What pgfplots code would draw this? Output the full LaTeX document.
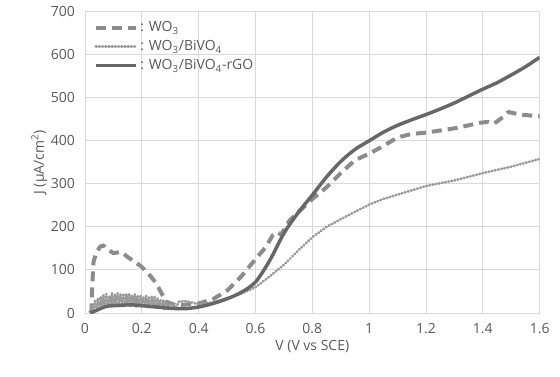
\documentclass[border=0pt]{standalone}
\usepackage{fontspec}
\setmainfont{Open Sans}
\usepackage{pgfplots}
\pgfplotsset{compat=1.18}
\definecolor{txt}{HTML}{595959}
\definecolor{gridc}{HTML}{D9D9D9}
\definecolor{cdash}{HTML}{8C8C8C}
\definecolor{cdot}{HTML}{9A9A9A}
\definecolor{csolid}{HTML}{676767}
\begin{document}
\begin{tikzpicture}
\begin{axis}[
  at={(0,0)}, anchor=south west,
  scale only axis, width=341pt, height=226pt,
  xmin=0, xmax=1.6, ymin=0, ymax=700,
  xtick={0,0.2,...,1.6}, ytick={0,100,...,700},
  xticklabels={0,0.2,0.4,0.6,0.8,1,1.2,1.4,1.6},
  /pgf/number format/assume math mode=true,
  tick style={draw=none},
  grid=major, major grid style={gridc, line width=0.7pt},
  axis line style={gridc, line width=0.7pt},
  ticklabel style={font=\fontsize{10.5}{12}\selectfont, text=txt},
  xticklabel style={yshift=-4pt},
  yticklabel style={xshift=-4pt},
  xlabel={V (V vs SCE)}, ylabel={J (μA/cm\textsuperscript{2})},
  label style={font=\fontsize{10.5}{12}\selectfont, text=txt},
  xlabel style={yshift=2pt},
  ylabel style={yshift=-4pt},
  legend style={draw=none, fill=none, at={(0.01,0.985)}, anchor=north west,
    font=\fontsize{10.5}{12}\selectfont, text=txt, row sep=1pt},
  legend cell align=left,
  legend image code/.code={\draw[#1] (0cm,0cm) -- (1.05cm,0cm);},
]
\addplot[cdash, line width=3pt, line join=round, dash pattern=on 7.5pt off 4.5pt] coordinates {
(0.018,0) (0.023,6) (0.025,57) (0.03,119) (0.04,140) (0.053,154) (0.065,157) (0.08,148)
(0.1,139) (0.128,142) (0.15,130) (0.175,119) (0.2,107) (0.225,90) (0.25,70) (0.27,45)
(0.29,25) (0.32,18) (0.36,20) (0.4,22) (0.45,32) (0.5,52) (0.55,85) (0.6,125)
(0.637,154) (0.66,180) (0.675,188) (0.69,182) (0.72,215) (0.76,240) (0.8,265) (0.85,292)
(0.9,325) (0.95,355) (1.0,370) (1.05,388) (1.1,408) (1.15,416) (1.2,419) (1.25,424)
(1.3,429) (1.35,436) (1.39,442) (1.42,444) (1.44,440) (1.47,455) (1.49,467) (1.53,461) (1.6,457)
};
\addlegendentry{: WO\textsubscript{3}}
\addplot[cdot, line width=2pt, line cap=round, line join=round, dash pattern=on 0.6pt off 1.8pt] coordinates {
(0.02,0) (0.025,18) (0.03,6) (0.035,28) (0.04,10) (0.045,34) (0.05,14) (0.055,38) (0.06,16)
(0.065,42) (0.07,18) (0.075,44) (0.08,14) (0.085,40) (0.09,20) (0.095,46) (0.1,16)
(0.105,44) (0.11,18) (0.115,46) (0.12,15) (0.125,43) (0.13,20) (0.135,45) (0.14,16)
(0.145,44) (0.15,18) (0.155,46) (0.16,15) (0.165,42) (0.17,18) (0.175,44) (0.18,14)
(0.185,40) (0.19,16) (0.195,42) (0.2,14) (0.205,38) (0.21,16) (0.215,40) (0.22,12)
(0.225,36) (0.23,14) (0.235,38) (0.24,12) (0.245,40) (0.25,10) (0.255,34) (0.26,12)
(0.265,32) (0.27,10) (0.275,30) (0.28,8) (0.285,28) (0.29,8) (0.295,22) (0.3,8)
(0.31,20) (0.32,12) (0.33,26) (0.35,28) (0.38,24) (0.4,20) (0.45,25)
(0.5,35) (0.55,45) (0.6,60) (0.65,85) (0.7,112) (0.75,145) (0.8,176) (0.85,200)
(0.9,218) (0.95,235) (1.0,252) (1.05,265) (1.1,275) (1.15,285) (1.2,295) (1.3,308)
(1.4,325) (1.5,340) (1.6,358)
};
\addlegendentry{: WO\textsubscript{3}/BiVO\textsubscript{4}}
\addplot[csolid, line width=2.6pt, smooth, tension=0.5] coordinates {
(0.02,0) (0.04,6) (0.06,12) (0.08,16) (0.1,17) (0.13,18) (0.16,19) (0.2,17) (0.25,14)
(0.3,11) (0.35,10) (0.4,14) (0.45,22) (0.5,33) (0.55,48) (0.6,72) (0.65,122) (0.7,185)
(0.75,233) (0.8,274) (0.85,316) (0.9,352) (0.95,380) (1.0,400) (1.05,420) (1.1,436)
(1.15,449) (1.2,461) (1.25,474) (1.3,488) (1.35,504) (1.4,520) (1.45,535) (1.5,553)
(1.55,572) (1.6,594)
};
\addlegendentry{: WO\textsubscript{3}/BiVO\textsubscript{4}-rGO}
\end{axis}
\pgfresetboundingbox
\path (-63.75pt,-47.25pt) rectangle (356.25pt,234.75pt);
\end{tikzpicture}
\end{document}
